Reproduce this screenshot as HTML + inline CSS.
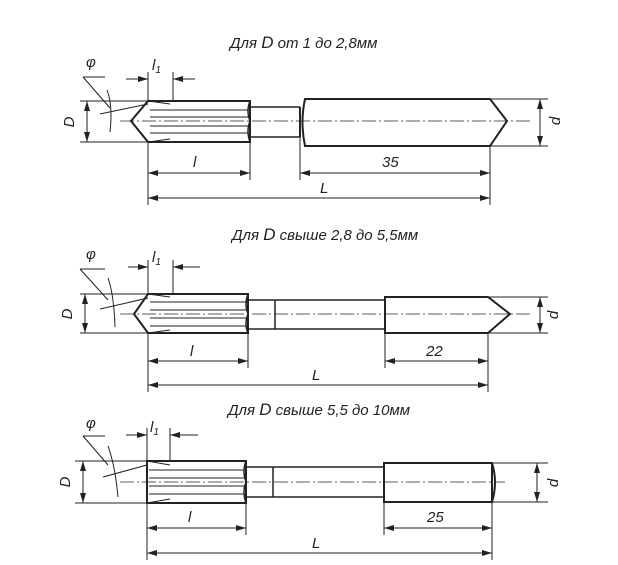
<!DOCTYPE html>
<html><head><meta charset="utf-8"><style>
html,body{margin:0;padding:0;background:#fff;width:618px;height:565px;overflow:hidden}
svg{display:block}
text{font-family:"Liberation Sans",sans-serif;font-style:italic;fill:#222}
</style></head><body>
<svg width="618" height="565" viewBox="0 0 618 565" xmlns="http://www.w3.org/2000/svg">
<defs>
<marker id="a" markerWidth="10" markerHeight="6" refX="10" refY="3" orient="auto-start-reverse" markerUnits="userSpaceOnUse"><path d="M0,0 L10,3 L0,6 z" fill="#222"/></marker>
</defs>
<g stroke="#222" fill="none" stroke-width="1">
<!-- ===== Drawing 1 ===== -->
<line x1="80" y1="101" x2="148" y2="101"/><line x1="80" y1="142" x2="148" y2="142"/>
<line x1="87" y1="101" x2="87" y2="142" marker-start="url(#a)" marker-end="url(#a)"/>
<path d="M148,101 H250 V142 H148 L131,121 Z" stroke-width="2"/>
<path d="M148,101 L170,104 M148,142 L170,139" />
<line x1="150" y1="110" x2="248" y2="110"/><line x1="150" y1="117" x2="248" y2="117"/>
<line x1="150" y1="126" x2="248" y2="126"/><line x1="150" y1="133" x2="248" y2="133"/>
<path d="M250,101 q-4,10 0,20 q-4,10 0,21" stroke-width="1.5"/>
<path d="M250,107 H300 M250,137 H300" stroke-width="1.5"/>
<path d="M305,99 H490 L507,121 L490,146 H305 Q300,122 305,99 Z M300,107 V137" stroke-width="2"/>
<line x1="120" y1="121" x2="530" y2="121" stroke-dasharray="14,3,2,3" stroke-width="0.7"/>
<line x1="490" y1="99" x2="548" y2="99"/><line x1="490" y1="146" x2="548" y2="146"/>
<line x1="540" y1="99" x2="540" y2="146" marker-start="url(#a)" marker-end="url(#a)"/>
<line x1="148" y1="142" x2="148" y2="205"/><line x1="250" y1="142" x2="250" y2="180"/>
<line x1="300" y1="137" x2="300" y2="180"/><line x1="490" y1="146" x2="490" y2="205"/>
<line x1="148" y1="173" x2="250" y2="173" marker-start="url(#a)" marker-end="url(#a)"/>
<line x1="300" y1="173" x2="490" y2="173" marker-start="url(#a)" marker-end="url(#a)"/>
<line x1="148" y1="198" x2="490" y2="198" marker-start="url(#a)" marker-end="url(#a)"/>
<line x1="148" y1="101" x2="148" y2="72"/><line x1="173" y1="101" x2="173" y2="72"/>
<line x1="126" y1="79" x2="148" y2="79" marker-end="url(#a)"/><line x1="195" y1="79" x2="173" y2="79" marker-end="url(#a)"/>
<path d="M83,77 H105 M83,77 L110,108 M100,114 L148,104"/>
<path d="M107,90 Q113,105 110,132" />
<!-- ===== Drawing 2 ===== -->
<line x1="80" y1="294" x2="148" y2="294"/><line x1="80" y1="333" x2="148" y2="333"/>
<line x1="85" y1="294" x2="85" y2="333" marker-start="url(#a)" marker-end="url(#a)"/>
<path d="M148,294 H248 V333 H148 L134,314 Z" stroke-width="2"/>
<path d="M148,294 L170,297 M148,333 L170,330"/>
<line x1="150" y1="302" x2="246" y2="302"/><line x1="150" y1="310" x2="246" y2="310"/>
<line x1="150" y1="318" x2="246" y2="318"/><line x1="150" y1="326" x2="246" y2="326"/>
<path d="M248,294 q-4,10 0,20 q-4,10 0,19" stroke-width="1.5"/>
<path d="M248,300 H385 M248,329 H385 M275,300 V329" stroke-width="1.5"/>
<path d="M385,297 H488 L510,314 L488,333 H385 Z" stroke-width="2"/>
<line x1="120" y1="314" x2="530" y2="314" stroke-dasharray="14,3,2,3" stroke-width="0.7"/>
<line x1="488" y1="297" x2="548" y2="297"/><line x1="488" y1="333" x2="548" y2="333"/>
<line x1="540" y1="297" x2="540" y2="333" marker-start="url(#a)" marker-end="url(#a)"/>
<line x1="148" y1="333" x2="148" y2="392"/><line x1="248" y1="333" x2="248" y2="368"/>
<line x1="385" y1="333" x2="385" y2="368"/><line x1="488" y1="333" x2="488" y2="392"/>
<line x1="148" y1="361" x2="248" y2="361" marker-start="url(#a)" marker-end="url(#a)"/>
<line x1="385" y1="361" x2="488" y2="361" marker-start="url(#a)" marker-end="url(#a)"/>
<line x1="148" y1="385" x2="488" y2="385" marker-start="url(#a)" marker-end="url(#a)"/>
<line x1="148" y1="294" x2="148" y2="260"/><line x1="173" y1="294" x2="173" y2="260"/>
<line x1="128" y1="267" x2="148" y2="267" marker-end="url(#a)"/><line x1="200" y1="267" x2="173" y2="267" marker-end="url(#a)"/>
<path d="M80,269 H105 M80,269 L108,300 M100,309 L148,298"/>
<path d="M108,278 Q114,295 115,327"/>
<!-- ===== Drawing 3 ===== -->
<line x1="75" y1="461" x2="147" y2="461"/><line x1="75" y1="503" x2="147" y2="503"/>
<line x1="83" y1="461" x2="83" y2="503" marker-start="url(#a)" marker-end="url(#a)"/>
<path d="M147,461 H246 V503 H147 Z" stroke-width="2"/>
<path d="M147,461 L170,465 M147,503 L170,499"/>
<line x1="149" y1="470" x2="244" y2="470"/><line x1="149" y1="478" x2="244" y2="478"/>
<line x1="149" y1="486" x2="244" y2="486"/><line x1="149" y1="494" x2="244" y2="494"/>
<path d="M246,461 q-4,10 0,21 q-4,10 0,21" stroke-width="1.5"/>
<path d="M246,467 H384 M246,497 H384 M273,467 V497" stroke-width="1.5"/>
<path d="M384,463 H492 Q498,482 492,502 H384 Z M492,463 V502" stroke-width="2"/>
<line x1="120" y1="482" x2="505" y2="482" stroke-dasharray="14,3,2,3" stroke-width="0.7"/>
<line x1="492" y1="463" x2="548" y2="463"/><line x1="492" y1="502" x2="548" y2="502"/>
<line x1="537" y1="463" x2="537" y2="502" marker-start="url(#a)" marker-end="url(#a)"/>
<line x1="147" y1="503" x2="147" y2="560"/><line x1="246" y1="503" x2="246" y2="535"/>
<line x1="384" y1="502" x2="384" y2="535"/><line x1="492" y1="502" x2="492" y2="560"/>
<line x1="147" y1="528" x2="246" y2="528" marker-start="url(#a)" marker-end="url(#a)"/>
<line x1="384" y1="528" x2="492" y2="528" marker-start="url(#a)" marker-end="url(#a)"/>
<line x1="147" y1="553" x2="492" y2="553" marker-start="url(#a)" marker-end="url(#a)"/>
<line x1="147" y1="461" x2="147" y2="428"/><line x1="170" y1="461" x2="170" y2="428"/>
<line x1="126" y1="435" x2="147" y2="435" marker-end="url(#a)"/><line x1="198" y1="435" x2="170" y2="435" marker-end="url(#a)"/>
<path d="M83,436 H105 M83,436 L108,465 M103,477 L147,465"/>
<path d="M108,446 Q115,465 118,497"/>
</g>
<g font-size="15">
<text x="230" y="48">Для <tspan font-size="17">D</tspan> от 1 до 2,8мм</text>
<text x="232" y="240">Для <tspan font-size="17">D</tspan> свыше 2,8 до 5,5мм</text>
<text x="228" y="415">Для <tspan font-size="17">D</tspan> свыше 5,5 до 10мм</text>
</g>
<g font-size="15">
<text x="86" y="67">φ</text><text x="152" y="70">l<tspan font-size="10" dy="3">1</tspan></text>
<text x="193" y="167">l</text><text x="382" y="167">35</text><text x="320" y="193">L</text>
<text x="86" y="259">φ</text><text x="152" y="262">l<tspan font-size="10" dy="3">1</tspan></text>
<text x="190" y="356">l</text><text x="426" y="356">22</text><text x="312" y="380">L</text>
<text x="86" y="428">φ</text><text x="150" y="432">l<tspan font-size="10" dy="3">1</tspan></text>
<text x="188" y="522">l</text><text x="427" y="522">25</text><text x="312" y="548">L</text>
<text transform="translate(74,122) rotate(-90)" text-anchor="middle">D</text>
<text transform="translate(72,314) rotate(-90)" text-anchor="middle">D</text>
<text transform="translate(70,482) rotate(-90)" text-anchor="middle">D</text>
<text transform="translate(560,121) rotate(-90)" text-anchor="middle">d</text>
<text transform="translate(558,315) rotate(-90)" text-anchor="middle">d</text>
<text transform="translate(558,483) rotate(-90)" text-anchor="middle">d</text>
</g>
</svg>
</body></html>
